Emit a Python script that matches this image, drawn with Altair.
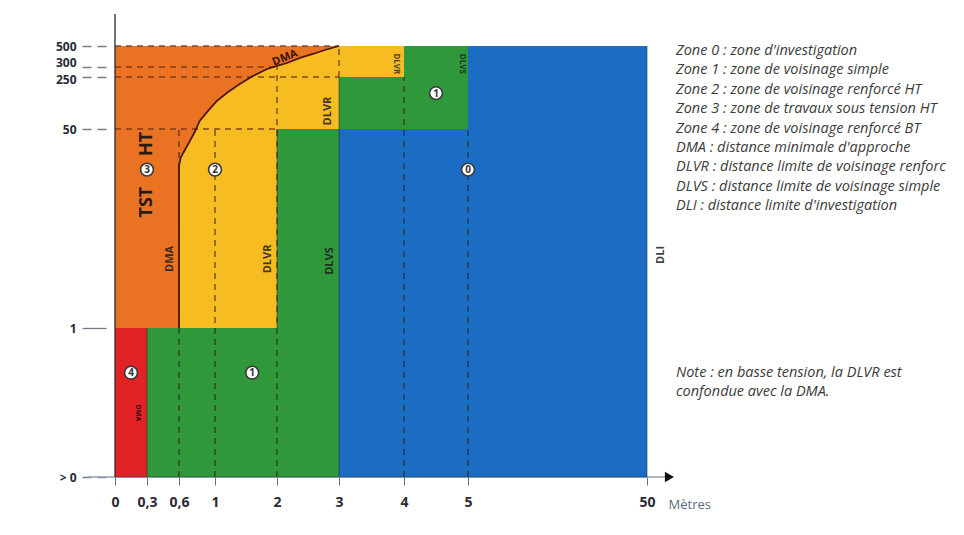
import altair as alt
import pandas as pd

# ---------------- data ----------------
x_ticks = [0, 0.3, 0.6, 1, 2, 3, 4, 5, 50]
x_tick_labels = ["0", "0,3", "0,6", "1", "2", "3", "4", "5", "50"]
y_ticks = [0, 1, 50, 250, 300, 500]
y_tick_labels = ["> 0", "1", "50", "250", "300", "500"]

# zone rectangles (zone "2" is drawn first, under the DMA area)
zone_id = ["2", "1", "1", "1", "1", "0", "0", "4"]
zone_x0 = [0.3, 0.3, 2, 3, 4, 3, 5, 0]
zone_x1 = [4, 3, 3, 5, 5, 50, 50, 0.3]
zone_y0 = [1, 0, 1, 50, 250, 0, 50, 0]
zone_y1 = [500, 1, 50, 250, 500, 50, 500, 1]

zone_names = ["0", "1", "2", "3", "4"]
zone_colors = ["#1b6cc3", "#2e983a", "#f6bc21", "#e97323", "#e22326"]

# DMA curve (kV vs metres)
dma_x = [0.6, 0.6, 0.62, 0.67, 0.72, 0.78, 0.83, 0.92, 1.03, 1.21, 1.40,
         1.61, 1.84, 2.0, 2.16, 2.37, 2.58, 2.77, 3.0]
dma_y = [1, 41, 43, 45, 47, 49.5, 81, 119, 158, 192, 223,
         255, 290, 310, 338, 386, 424, 462, 500]

# dashed guide lines
dv_x = [0.6, 1, 2, 3, 4, 5]
dv_y0 = [0, 0, 0, 250, 0, 0]
dv_y1 = [50, 50, 300, 500, 250, 50]
dh_y = [500, 300, 250, 50]
dh_x0 = [0, 0, 0, 0]
dh_x1 = [3, 2, 3, 2]

# solid zone borders
sv_x = [0.3, 2, 3, 50]
sv_y0 = [0, 1, 0, 0]
sv_y1 = [1, 50, 250, 500]

# zone number badges
badge_x = [0.15, 0.3, 1, 1.6, 4.5, 5]
badge_y = [0.70, 40, 40, 0.70, 188, 40]
badge_text = ["4", "3", "2", "1", "1", "0"]

# vertical limit labels
lab_text = ["DMA", "DLVR", "DLVS", "DLI", "DLVR"]
lab_x = [0.52, 1.85, 2.85, 53, 2.82]
lab_y = [18, 18, 17.5, 19, 119]
small_text = ["DLVR", "DLVS"]
small_x = [3.88, 4.9]
small_y = [330, 330]

tst_text = ["TST", "HT"]
tst_x = [0.3, 0.3]
tst_y = [32, 46.3]

curve_lab_text = ["DMA"]
curve_lab_x = [2.13]
curve_lab_y = [386]
red_lab_text = ["DMA"]
red_lab_x = [0.22]
red_lab_y = [0.43]

axis_line_x = [-0.26, 54.8]
y_axis_top = 620
text_x = 56

legend_lines = [
    "Zone 0 : zone d'investigation",
    "Zone 1 : zone de voisinage simple",
    "Zone 2 : zone de voisinage renforcé HT",
    "Zone 3 : zone de travaux sous tension HT",
    "Zone 4 : zone de voisinage renforcé BT",
    "DMA : distance minimale d'approche",
    "DLVR : distance limite de voisinage renforcé",
    "DLVS : distance limite de voisinage simple",
    "DLI : distance limite d'investigation",
]
legend_rows = [0, 1, 2, 3, 4, 5, 6, 7, 8]
note_lines = ["Note : en basse tension, la DLVR est", "confondue avec la DMA."]
note_rows = [16.6, 17.6]

# ---------------- scales & axes ----------------
FONT = "Open Sans"
xs = alt.Scale(domain=[0, 0.3, 0.6, 1, 2, 3, 4, 5, 50, 56],
               range=[0, 32, 64, 100, 162, 224, 289, 353, 532, 560],
               nice=False, zero=False)
ys = alt.Scale(domain=[0, 1, 50, 250, 300, 500, 620],
               range=[463, 314, 115, 63, 53, 32, 0],
               nice=False, zero=False)


def label_expr(vals, labs):
    expr = "datum.label"
    for v, l in reversed(list(zip(vals, labs))):
        expr = f"datum.value == {v} ? '{l}' : ({expr})"
    return expr


xaxis = alt.Axis(values=x_ticks, labelExpr=label_expr(x_ticks, x_tick_labels),
                 domain=False, grid=False, tickSize=8, tickColor="#66707e",
                 labelFont=FONT, labelFontSize=14, labelFontWeight="bold",
                 labelColor="#2a2a35", labelPadding=10, labelFlush=False,
                 labelOverlap=False, title="Mètres", titleFont=FONT,
                 titleFontSize=13, titleFontWeight="normal", titleColor="#5b6b80",
                 titleX=553, titleY=27, titleAlign="left", titleBaseline="middle")
yaxis = alt.Axis(values=y_ticks, labelExpr=label_expr(y_ticks, y_tick_labels),
                 domain=False, grid=False, tickSize=24, offset=9,
                 tickColor="#777b88", tickWidth=1.3,
                 tickDash={"condition": {"test": "datum.value === 1", "value": [30, 0]},
                           "value": [9, 6]},
                 labelOffset={"condition": [{"test": "datum.value === 300", "value": -5},
                                            {"test": "datum.value === 250", "value": 2}],
                              "value": 0},
                 labelFont=FONT, labelFontSize=12, labelFontWeight="bold",
                 labelColor="#2a2a35", labelPadding=6, labelFlush=False,
                 labelOverlap=False, minExtent=98, maxExtent=98, title=None)


def X(f):
    return alt.X(f, type="quantitative", scale=xs, axis=xaxis)


def Y(f):
    return alt.Y(f, type="quantitative", scale=ys, axis=yaxis)


zones = pd.DataFrame({"zone": zone_id, "x0": zone_x0, "x1": zone_x1,
                      "y0": zone_y0, "y1": zone_y1})
curve = pd.DataFrame({"x": dma_x, "y": dma_y, "i": range(len(dma_x))})
dv = pd.DataFrame({"x": dv_x, "y0": dv_y0, "y1": dv_y1})
dh = pd.DataFrame({"y": dh_y, "x0": dh_x0, "x1": dh_x1})
sv = pd.DataFrame({"x": sv_x, "y0": sv_y0, "y1": sv_y1})
badges = pd.DataFrame({"x": badge_x, "y": badge_y, "t": badge_text})
labs = pd.DataFrame({"x": lab_x, "y": lab_y, "t": lab_text})
smalls = pd.DataFrame({"x": small_x, "y": small_y, "t": small_text})
tst = pd.DataFrame({"x": tst_x, "y": tst_y, "t": tst_text})
clab = pd.DataFrame({"x": curve_lab_x, "y": curve_lab_y, "t": curve_lab_text})
rlab = pd.DataFrame({"x": red_lab_x, "y": red_lab_y, "t": red_lab_text})
axline = pd.DataFrame({"x0": [axis_line_x[0]], "x1": [axis_line_x[1]], "y": [0]})
yline = pd.DataFrame({"x": [0], "y0": [0], "y1": [y_axis_top]})
arrow = pd.DataFrame({"x": [axis_line_x[1]], "y": [0]})
bottom = pd.DataFrame({"x0": [0], "x1": [50], "y": [0]})

color = alt.Color("zone:N", scale=alt.Scale(domain=zone_names, range=zone_colors), legend=None)

base_axis = alt.Chart(axline).mark_rule(color="#8ea3b5", strokeWidth=1.6).encode(
    x=X("x0"), x2="x1", y=Y("y"))

rect_under = alt.Chart(zones).transform_filter("datum.zone == '2'").mark_rect().encode(
    x=X("x0"), x2="x1", y=Y("y0"), y2="y1", color=color)

area = alt.Chart(curve).mark_area(orient="horizontal", color="#e97323").encode(
    y=Y("y"), x=alt.X("x", type="quantitative", scale=xs, axis=xaxis, stack=None),
    x2=alt.datum(0))

rect_over = alt.Chart(zones).transform_filter("datum.zone != '2'").mark_rect().encode(
    x=X("x0"), x2="x1", y=Y("y0"), y2="y1", color=color)

solid = alt.Chart(sv).mark_rule(color="#2a2a2a", strokeWidth=1, opacity=0.55).encode(
    x=X("x"), y=Y("y0"), y2="y1")
bottom_line = alt.Chart(bottom).mark_rule(color="#2a2a2a", strokeWidth=1, opacity=0.5).encode(
    x=X("x0"), x2="x1", y=Y("y"))

dashed_v = alt.Chart(dv).mark_rule(color="#2e2018", strokeWidth=1.3, opacity=0.75,
                                   strokeDash=[6, 5]).encode(
    x=X("x"), y=Y("y0"), y2="y1")
dashed_h = alt.Chart(dh).mark_rule(color="#6a2a1a", strokeWidth=1.3, opacity=0.8,
                                   strokeDash=[6, 5]).encode(
    y=Y("y"), x=X("x0"), x2="x1")

curve_line = alt.Chart(curve).mark_line(color="#4e1610", strokeWidth=1.8).encode(
    x=X("x"), y=Y("y"), order="i:Q")

y_rule = alt.Chart(yline).mark_rule(color="#2a2a2a", strokeWidth=1.3).encode(
    x=X("x"), y=Y("y0"), y2="y1")

arrow_pt = alt.Chart(arrow).mark_point(shape="triangle-right", filled=True, size=110,
                                       color="#111111", opacity=1).encode(
    x=X("x"), y=Y("y"))

badge_pts = alt.Chart(badges).mark_point(shape="circle", filled=True, fill="white",
                                         stroke="#3a3a3a", strokeWidth=1.6, size=165,
                                         opacity=1).encode(x=X("x"), y=Y("y"))
badge_txt = alt.Chart(badges).mark_text(font=FONT, fontSize=10, fontWeight="bold",
                                        color="#333333", baseline="middle", dy=0.5).encode(
    x=X("x"), y=Y("y"), text="t:N")

lab_txt = alt.Chart(labs).mark_text(font=FONT, fontSize=11, fontWeight="bold",
                                    color="#1f1f1f", opacity=0.85, angle=270,
                                    baseline="middle").encode(
    x=X("x"), y=Y("y"), text="t:N")
small_txt = alt.Chart(smalls).mark_text(font=FONT, fontSize=8, fontWeight="bold",
                                        color="#1f1f1f", opacity=0.8, angle=90,
                                        baseline="middle").encode(
    x=X("x"), y=Y("y"), text="t:N")
tst_txt = alt.Chart(tst).mark_text(font=FONT, fontSize=18, fontWeight="bold",
                                   color="#2a1a10", angle=270, baseline="middle").encode(
    x=X("x"), y=Y("y"), text="t:N")
clab_txt = alt.Chart(clab).mark_text(font=FONT, fontSize=11, fontWeight="bold",
                                     color="#3a1208", angle=338, baseline="middle").encode(
    x=X("x"), y=Y("y"), text="t:N")
rlab_txt = alt.Chart(rlab).mark_text(font=FONT, fontSize=7, fontWeight="bold",
                                     color="#3a0a0a", angle=90, baseline="middle").encode(
    x=X("x"), y=Y("y"), text="t:N")

inner = alt.layer(base_axis, rect_under, area, rect_over, solid, bottom_line,
                  dashed_v, dashed_h, curve_line, y_rule, arrow_pt, badge_pts,
                  badge_txt, lab_txt, small_txt, tst_txt, clab_txt, rlab_txt)

# ---------------- side notes (own row scale) ----------------
panel_df = pd.DataFrame({"t": legend_lines + note_lines, "row": legend_rows + note_rows})
panel = alt.Chart(panel_df).mark_text(font=FONT, fontStyle="italic", fontSize=14.5,
                                      color="#3b3b3b", align="left", baseline="middle",
                                      dx=1, limit=272, ellipsis="\u200b").encode(
    x=alt.datum(text_x),
    y=alt.Y("row:Q", axis=None,
            scale=alt.Scale(domain=[-1.907, 21.96], reverse=True, nice=False, zero=False)),
    text="t:N")

chart = alt.layer(inner, panel).resolve_scale(y="independent").properties(
    width=560, height=463,
    padding={"left": 0, "top": 5, "right": 0, "bottom": 0}
).configure_view(stroke=None)

chart.save("out.html", embed_options={"renderer": "svg", "actions": False})
